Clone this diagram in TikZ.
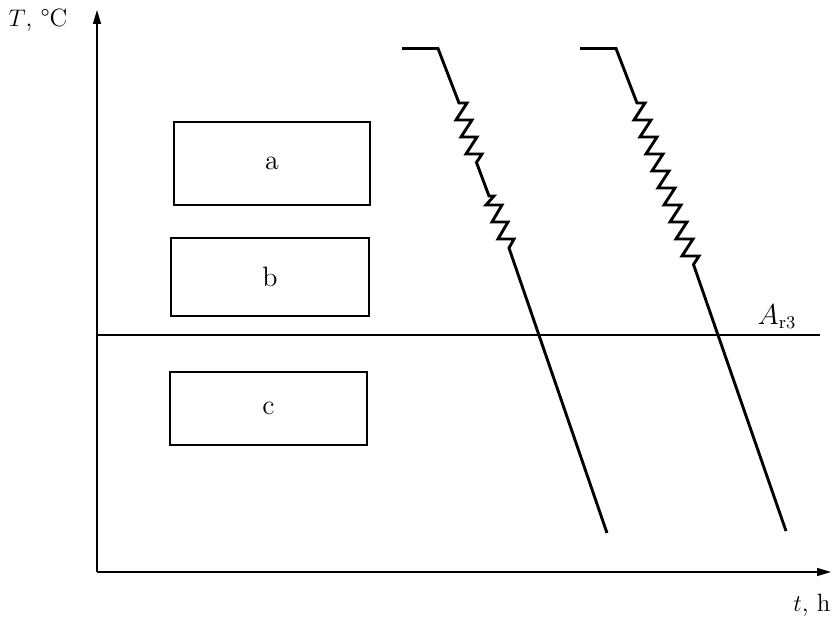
\documentclass[tikz,border=0pt]{standalone}
\usepackage{amsmath, amssymb}
\usepackage{tikz}
\usetikzlibrary{arrows.meta, positioning}

\begin{document}
\begin{tikzpicture}[x=0.5pt, y=-0.5pt,
    zone/.style={draw, line width=0.8pt, inner sep=0pt, font=\fontsize{14}{16}\selectfont},
    cooling/.style={line width=1.45pt, line join=miter},
    axis/.style={line width=0.7pt, -{Triangle[length=7pt, width=4pt]}},
    lbl/.style={font=\fontsize{12.5}{14}\selectfont}]
  \useasboundingbox (0,0) rectangle (832,619);
  % Axes
  \coordinate (O) at (97,572);
  \coordinate (tmax) at (831,572);
  \coordinate (Tmax) at (97,10);
  \draw[axis] (O) -- (tmax);
  \draw[axis] (O) -- (Tmax);
  \node[lbl] (Tlabel) at (38,20) {$T$, °C};
  \node[lbl] (tlabel) at (812,605) {$t$, h};
  % Ar3 line
  \coordinate (ar3a) at (97,335);
  \coordinate (ar3b) at (820,335);
  \draw[line width=0.7pt] (ar3a) -- (ar3b);
  \node[lbl, font=\fontsize{13.5}{15}\selectfont] (ar3) at (777,317) {$A_{\mathrm{r3}}$};
  % Zones
  \node[zone, minimum width=98pt, minimum height=41.5pt] (za) at (272,163.5) {a};
  \node[zone, minimum width=99pt, minimum height=39pt] (zb) at (270,277) {b};
  \node[zone, minimum width=98.5pt, minimum height=36.5pt] (zc) at (268.5,408.5) {c};
  % Cooling curves
  \draw[cooling] (402,48.5) -- (438,48.5) -- (459,103) -- ++(8,0)
    \foreach \i in {1,...,3} { -- ++(-11,17) -- ++(16,0) }
    -- ++(-5.5,8.5) -- (489,196) -- ++(5,0) -- ++(-8,9) -- ++(16,0)
    \foreach \i in {1,2} { -- ++(-10,17) -- ++(16,0) }
    -- ++(-5,9) -- (607,533);
  \draw[cooling] (580,48.5) -- (616,48.5) -- (637,103) -- ++(8,0)
    \foreach \i in {1,...,9} { -- ++(-11,17) -- ++(17,0) }
    -- ++(-5.5,8.5) -- (786,531);
\end{tikzpicture}
\end{document}
